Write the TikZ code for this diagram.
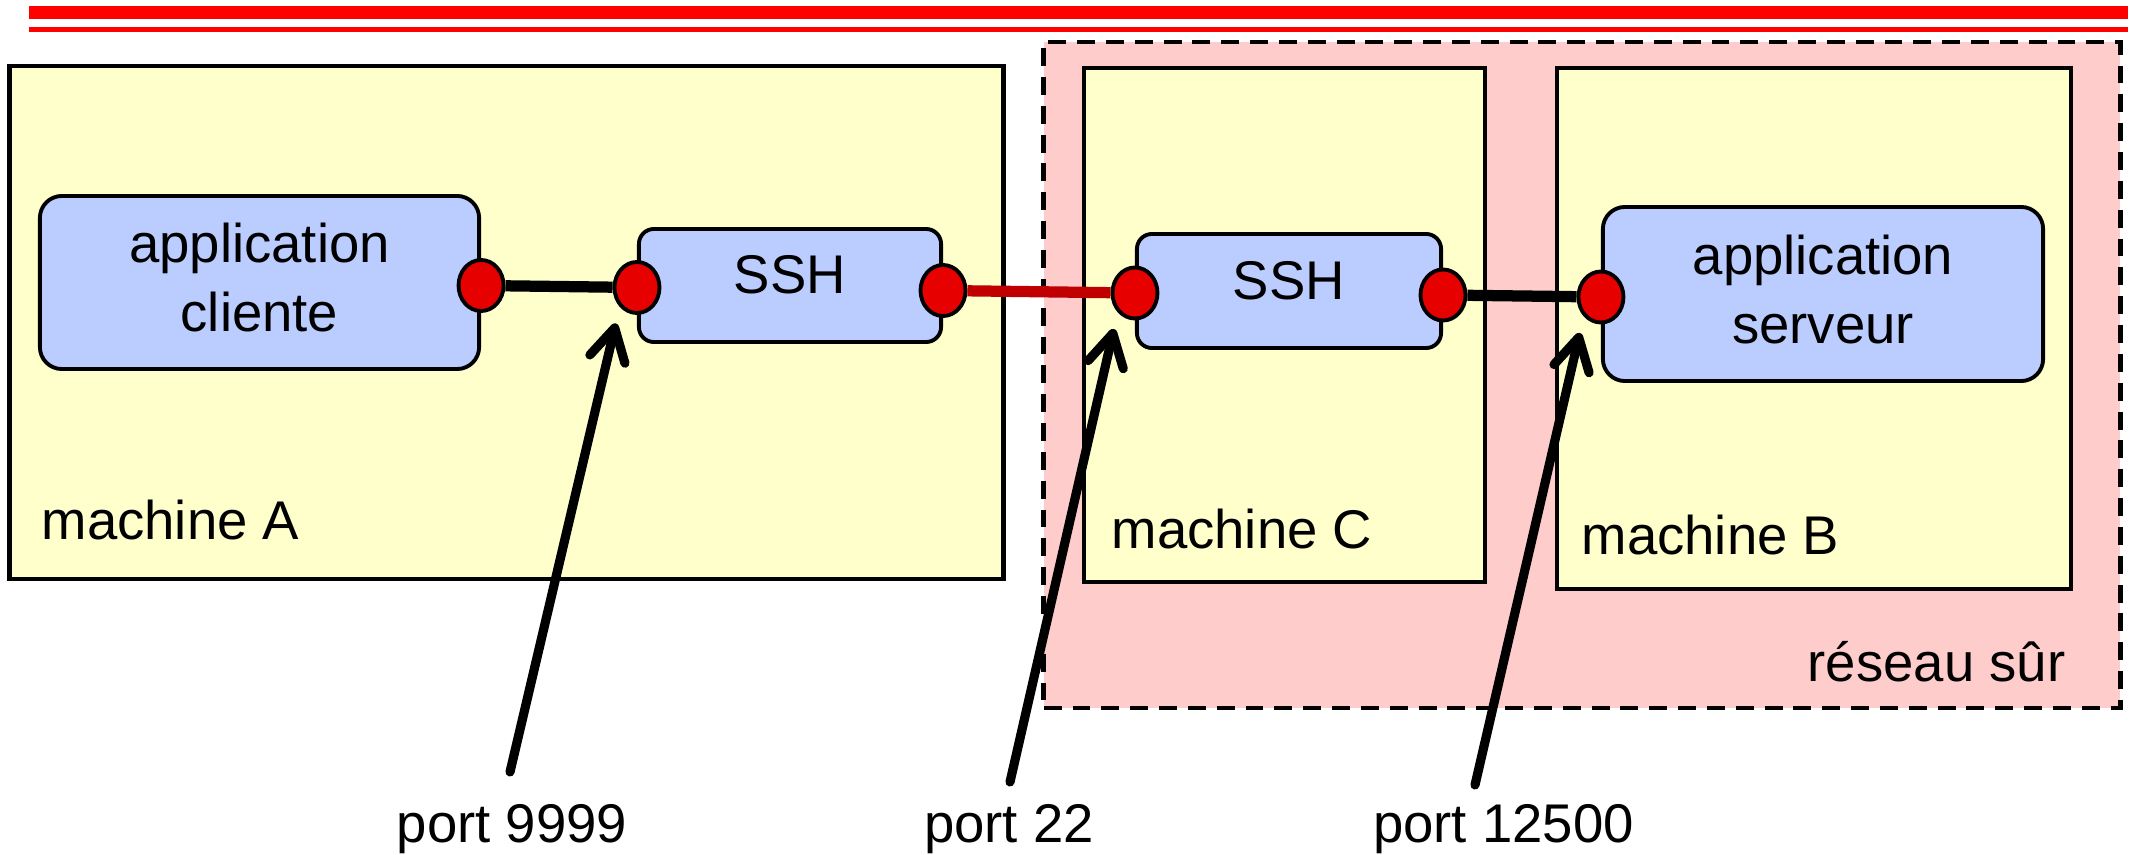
\documentclass[tikz,border=0pt]{standalone}
\usepackage{fontspec}
\setmainfont{Liberation Sans}
\usetikzlibrary{positioning,arrows.meta,shapes.geometric}

\definecolor{machfill}{RGB}{255,255,204}
\definecolor{netfill}{RGB}{255,204,204}
\definecolor{appfill}{RGB}{187,204,255}
\definecolor{portred}{RGB}{230,0,0}
\definecolor{tunred}{RGB}{192,0,0}

\begin{document}
\begin{tikzpicture}[x=0.01cm, y=-0.01cm,
  font=\fontsize{15.5}{19.6}\selectfont,
  machine/.style={draw, fill=machfill, line width=1.3pt, inner sep=0pt},
  reseau/.style={draw, fill=netfill, line width=1.3pt, inner sep=0pt,
                 dash pattern=on 5.1pt off 3.1pt},
  appbox/.style={draw, fill=appfill, line width=1.1pt, rounded corners=0.22cm,
                 align=center, inner sep=0pt, text depth=0.1cm},
  sshbox/.style={appbox, rounded corners=0.15cm, text depth=0.22cm},
  port/.style={ellipse, draw, fill=portred, line width=1.1pt,
               minimum width=0.45cm, minimum height=0.51cm, inner sep=0pt},
  link/.style={line width=3.2pt},
  ar/.style={line width=2.6pt, line cap=round, shorten >=1.7mm,
             -{Straight Barb[length=3.2mm,width=3.6mm,round]}},
  lbl/.style={anchor=base west, inner sep=0pt}]
\useasboundingbox (0,0) rectangle (2132,855);

% double rule along the top
\draw[red, line width=3.7pt] (29,12.5) -- (2128,12.5);
\draw[red, line width=1.4pt] (29,29.5) -- (2128,29.5);

% trusted network and the three machines
\node[reseau, minimum width=10.76cm, minimum height=6.66cm] (net) at (1582,375) {};
\node[machine, minimum width=9.93cm, minimum height=5.13cm] (ma) at (506.5,322.5) {};
\node[machine, minimum width=4.01cm, minimum height=5.14cm] (mc) at (1284.5,325) {};
\node[machine, minimum width=5.14cm, minimum height=5.21cm] (mb) at (1814,328.5) {};

% programs
\node[appbox, minimum width=4.39cm, minimum height=1.73cm] (cli) at (259.5,282.5) {application\\cliente};
\node[sshbox, minimum width=3.02cm, minimum height=1.13cm] (sshA) at (790,285.5) {SSH};
\node[sshbox, minimum width=3.04cm, minimum height=1.14cm] (sshC) at (1289,291) {SSH};
\node[appbox, minimum width=4.40cm, minimum height=1.74cm] (srv) at (1823,294) {application\\serveur};

% ports on the box edges
\node[port] (pcli) at ([yshift=-0.03cm]cli.east) {};
\node[port] (pa1) at ([yshift=-0.02cm]sshA.west) {};
\node[port] (pa2) at ([yshift=-0.05cm]sshA.east) {};
\node[port] (pc1) at ([yshift=-0.02cm]sshC.west) {};
\node[port] (pc2) at ([yshift=-0.04cm]sshC.east) {};
\node[port] (psrv) at ([yshift=-0.03cm]srv.west) {};
\foreach \a/\b/\c in {pcli/pa1/black, pa2/pc1/tunred, pc2/psrv/black}
  \draw[link, \c] (\a) -- (\b);

% labels
\node[lbl] (la) at (41,540) {machine A};
\node[lbl] (lc) at (1111,549) {machine C};
\node[lbl] (lb) at (1581,555) {machine B};
\node[lbl, anchor=base east] (lnet) at (2066,682) {réseau sûr};
\node[lbl, anchor=base] (l9999) at (512,843) {port 9999};
\node[lbl, anchor=base] (l22) at (1009,843) {port 22};
\node[lbl, anchor=base] (l12500) at (1503.5,843) {port 12500};

% pointers from the port numbers
\coordinate (t1) at (510,772);
\coordinate (t2) at (1010,782);
\coordinate (t3) at (1475,785);
\foreach \t/\p in {t1/pa1, t2/pc1, t3/psrv}
  \draw[ar] (\t) -- (\p.south west);
\end{tikzpicture}
\end{document}
